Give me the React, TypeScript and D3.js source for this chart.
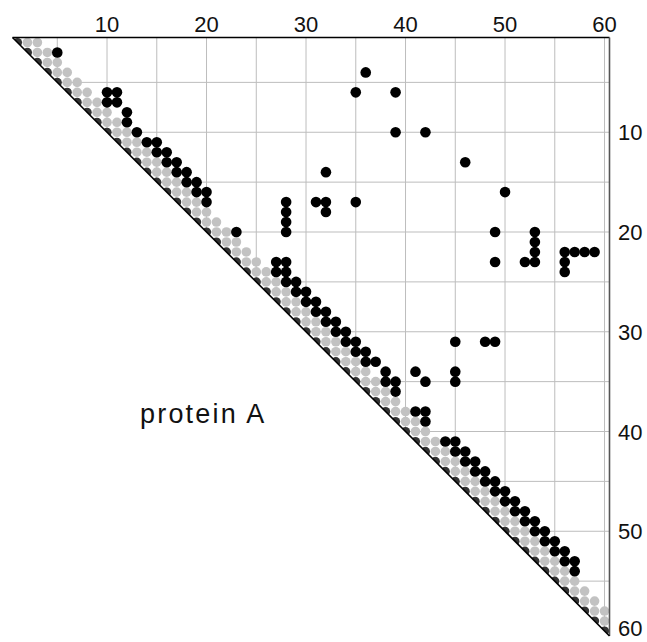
import React, { useEffect, useRef } from 'react';
import * as d3 from 'd3';

// residues in the chain
const residueCount = 60;
// sequence neighbours drawn in grey (i, i+1) and (i, i+2)
const neighbourOffsets = [1, 2];

// contacts as [row residue, column residue]
const helixContacts: [number, number][] = [
  [2, 5], [6, 10], [6, 11], [7, 10], [7, 11], [8, 12], [9, 12], [10, 13],
  [11, 14], [11, 15], [12, 15], [12, 16], [13, 16], [13, 17], [14, 17], [14, 18],
  [15, 18], [15, 19], [16, 19], [16, 20], [17, 20], [20, 23],
];
const middleContacts: [number, number][] = [
  [23, 27], [23, 28], [24, 27], [24, 28], [25, 28], [25, 29], [26, 29], [26, 30],
  [27, 30], [27, 31], [28, 31], [28, 32], [29, 32], [29, 33], [30, 33], [30, 34],
  [31, 34], [31, 35], [32, 35], [32, 36], [33, 36], [33, 37], [34, 38], [35, 38],
  [35, 39], [36, 39], [38, 41], [38, 42], [39, 42],
];
const tailContacts: [number, number][] = [
  [41, 44], [41, 45], [42, 45], [42, 46], [43, 46], [43, 47], [44, 47], [44, 48],
  [45, 48], [45, 49], [46, 49], [46, 50], [47, 50], [47, 51], [48, 51], [48, 52],
  [49, 52], [49, 53], [50, 53], [50, 54], [51, 54], [51, 55], [52, 55], [52, 56],
  [53, 56], [53, 57], [54, 57],
];
const longRangeContacts: [number, number][] = [
  [4, 36], [6, 35], [6, 39], [10, 39], [10, 42], [13, 46], [14, 32], [16, 50],
  [17, 28], [18, 28], [19, 28], [20, 28], [17, 31], [17, 32], [18, 32], [17, 35],
  [20, 49], [23, 49], [20, 53], [21, 53], [22, 53], [23, 53], [23, 52],
  [22, 56], [22, 57], [22, 58], [22, 59], [23, 56], [24, 56],
  [31, 45], [31, 48], [31, 49], [34, 41], [35, 42], [34, 45], [35, 45],
];

const tickValues = [10, 20, 30, 40, 50, 60];
const gridValues = [5, 10, 15, 20, 25, 30, 35, 40, 45, 50, 55, 60];
const chartLabel = 'protein A';

const App: React.FC = () => {
  const svgRef = useRef<SVGSVGElement>(null);

  useEffect(() => {
    if (!svgRef.current) return;
    d3.select(svgRef.current).selectAll('*').remove();
    const svg = d3.select(svgRef.current);
    const font = 'Liberation Sans, Arial, Helvetica, sans-serif';

    const x = d3.scaleLinear().domain([0.5, residueCount + 0.5]).range([12.5, 609.5]);
    const y = d3.scaleLinear().domain([0.5, residueCount + 0.5]).range([37.5, 636]);

    const lo = 0.5, hi = residueCount + 0.5;
    const tri = [[x(lo), y(lo)], [x(hi), y(lo)], [x(hi), y(hi)]];

    svg.append('defs').append('clipPath').attr('id', 'upper')
      .append('polygon').attr('points', tri.map(p => p.join(',')).join(' '));

    // grid, clipped to the upper triangle
    const grid = svg.append('g').attr('clip-path', 'url(#upper)');
    grid.selectAll('line.v').data(gridValues).enter().append('line')
      .attr('x1', d => x(d)).attr('x2', d => x(d))
      .attr('y1', y(lo)).attr('y2', y(hi))
      .attr('stroke', '#bdbdbd').attr('stroke-width', 1);
    grid.selectAll('line.h').data(gridValues).enter().append('line')
      .attr('y1', d => y(d)).attr('y2', d => y(d))
      .attr('x1', x(lo)).attr('x2', x(hi))
      .attr('stroke', '#bdbdbd').attr('stroke-width', 1);

    // self contacts on the diagonal, half hidden
    const residues = d3.range(1, residueCount + 1);
    grid.selectAll('circle.self').data(residues).enter().append('circle')
      .attr('cx', d => x(d)).attr('cy', d => y(d)).attr('r', 4.6)
      .attr('fill', '#333');

    const neighbours: [number, number][] = [];
    residues.forEach(i => neighbourOffsets.forEach(o => {
      if (i + o <= residueCount) neighbours.push([i, i + o]);
    }));
    svg.append('g').selectAll('circle').data(neighbours).enter().append('circle')
      .attr('cx', d => x(d[1])).attr('cy', d => y(d[0])).attr('r', 4.8)
      .attr('fill', '#c2c2c2');

    const contacts = [...helixContacts, ...middleContacts, ...tailContacts, ...longRangeContacts];
    svg.append('g').selectAll('circle').data(contacts).enter().append('circle')
      .attr('cx', d => x(d[1])).attr('cy', d => y(d[0])).attr('r', 5.3)
      .attr('fill', '#000');

    // frame
    svg.append('line').attr('x1', x(lo)).attr('x2', x(hi)).attr('y1', y(lo)).attr('y2', y(lo))
      .attr('stroke', '#000').attr('stroke-width', 1.6);
    svg.append('line').attr('x1', x(hi)).attr('x2', x(hi)).attr('y1', y(lo)).attr('y2', y(hi))
      .attr('stroke', '#555').attr('stroke-width', 1.6);
    svg.append('line').attr('x1', x(lo)).attr('x2', x(hi)).attr('y1', y(lo)).attr('y2', y(hi))
      .attr('stroke', '#000').attr('stroke-width', 1.6);

    // tick labels
    svg.append('g').selectAll('text').data(tickValues).enter().append('text')
      .attr('x', d => x(d)).attr('y', 32)
      .attr('text-anchor', 'middle')
      .style('font-family', font).style('font-size', '22px').style('fill', '#111')
      .text(d => d);
    svg.append('g').selectAll('text').data(tickValues).enter().append('text')
      .attr('x', 618).attr('y', d => Math.min(y(d) + 8, 636))
      .attr('text-anchor', 'start')
      .style('font-family', font).style('font-size', '22px').style('fill', '#111')
      .text(d => d);

    svg.append('text')
      .attr('x', 140).attr('y', 422.5)
      .style('font-family', font).style('font-size', '27px').style('letter-spacing', '2.2px')
      .style('fill', '#111')
      .text(chartLabel);
  }, []);

  return (
    <svg
      ref={svgRef}
      width={647}
      height={642}
      style={{ position: 'absolute', left: 0, top: 0, background: '#fff' }}
    />
  );
};

export default App;
